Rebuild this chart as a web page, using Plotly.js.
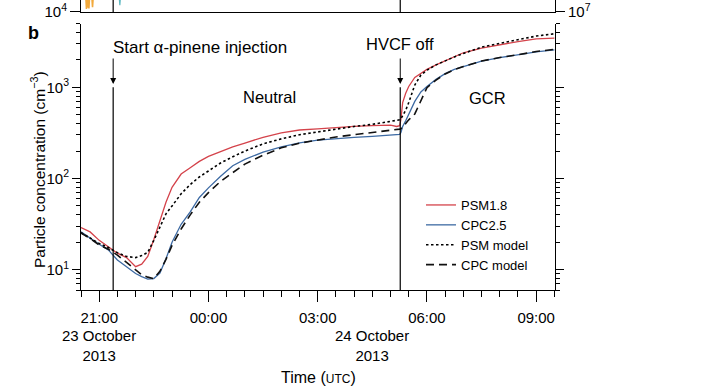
<!DOCTYPE html>
<html>
<head>
<meta charset="utf-8">
<script src="https://cdn.plot.ly/plotly-3.0.1.min.js"></script>
<style>
  html, body { margin: 0; padding: 0; background: #fff; }
  #chart { width: 706px; height: 392px; }
</style>
</head>
<body>
<div id="chart"></div>
<script>
// ---- Data ----
const times = [
  '2013-10-23 20:30','2013-10-23 20:45','2013-10-23 21:00','2013-10-23 21:15','2013-10-23 21:30',
  '2013-10-23 21:45','2013-10-23 22:00','2013-10-23 22:10','2013-10-23 22:20','2013-10-23 22:30',
  '2013-10-23 22:40','2013-10-23 22:50','2013-10-23 23:00','2013-10-23 23:15','2013-10-23 23:30',
  '2013-10-23 23:45','2013-10-24 00:00','2013-10-24 00:20','2013-10-24 00:40','2013-10-24 01:00',
  '2013-10-24 01:30','2013-10-24 02:00','2013-10-24 02:30','2013-10-24 03:00','2013-10-24 03:30',
  '2013-10-24 04:00','2013-10-24 04:30','2013-10-24 05:00','2013-10-24 05:10','2013-10-24 05:15',
  '2013-10-24 05:17','2013-10-24 05:20','2013-10-24 05:25','2013-10-24 05:30','2013-10-24 05:40',
  '2013-10-24 05:50','2013-10-24 06:00','2013-10-24 06:15','2013-10-24 06:30','2013-10-24 06:45',
  '2013-10-24 07:00','2013-10-24 07:30','2013-10-24 08:00','2013-10-24 08:30','2013-10-24 09:00',
  '2013-10-24 09:30'
];
const psm18 = [29, 26, 21, 18, 15.2, 13.6, 10.8, 11.5, 14, 21.5, 35.5, 55, 80, 112, 131,
  154, 175, 199, 222, 245, 283, 317, 340, 350, 363, 372, 380, 385, 372, 380,
  440, 680, 860, 1020, 1280, 1430, 1570, 1760, 1960, 2190, 2390, 2680, 2930, 3170, 3400, 3460];
const cpc25 = [26, 22, 19, 16.5, 12.8, 10.8, 9.1, 8.4, 7.9, 8.0, 9.2, 13.2, 20, 31.5, 43,
  62, 79, 106, 138, 162, 195, 222, 246, 264, 275, 283, 290, 298, 302, 305,
  318, 372, 430, 510, 700, 890, 1020, 1220, 1410, 1570, 1680, 1930, 2110, 2260, 2450, 2570];
const psmModel = [25.5, 22, 19.4, 17.5, 15.4, 14, 13.6, 14.3, 15.5, 21, 30, 41, 50, 68, 86,
  104, 121, 148, 173, 200, 240, 272, 302, 325, 350, 372, 392, 420, 432, 440,
  450, 490, 560, 680, 1060, 1360, 1540, 1760, 1960, 2150, 2350, 2750, 3030, 3300, 3640, 3860];
const cpcModel = [25.3, 22, 18.7, 16.8, 14.5, 12, 9.8, 8.8, 8.3, 8.0, 9.6, 13, 18.5, 28, 40,
  55, 70, 93, 116, 144, 180, 217, 244, 264, 285, 302, 318, 338, 344, 348,
  352, 360, 400, 440, 510, 700, 990, 1200, 1400, 1560, 1690, 1940, 2120, 2270, 2470, 2600];

// fragments of the panel above (cut off at the top of the picture)
const topOrangeTimes = ['2013-10-23 20:38','2013-10-23 20:39','2013-10-23 20:40','2013-10-23 20:41',
  '2013-10-23 20:42','2013-10-23 20:43','2013-10-23 20:44','2013-10-23 20:48','2013-10-23 20:49','2013-10-23 20:50'];
const topOrangeVals = [40000, 13500, 40000, 15000, 40000, 14000, 40000, 40000, 16000, 40000];
const topTealTimes = ['2013-10-23 21:33','2013-10-23 21:34','2013-10-23 21:35'];
const topTealVals = [40000, 19000, 40000];

const seriesNames = ['PSM1.8', 'CPC2.5', 'PSM model', 'CPC model'];
const xTickVals = ['2013-10-23 21:00','2013-10-24 00:00','2013-10-24 03:00','2013-10-24 06:00','2013-10-24 09:00'];
const xTickText = ['21:00','00:00','03:00','06:00','09:00'];
const yTickVals = [10, 100, 1000];
const yTickText = ['10<sup>1</sup>','10<sup>2</sup>','10<sup>3</sup>'];
const yMinorVals = [6,7,8,9,20,30,40,50,60,70,80,90,200,300,400,500,600,700,800,900,2000,3000,4000,5000];
const tPinene = '2013-10-23 21:23';
const tHVCF = '2013-10-24 05:16';
const xRange = ['2013-10-23 20:30','2013-10-24 09:31'];

// ---- Plot ----
const FONT = 'Liberation Sans, Arial, Helvetica, sans-serif';
const traces = [
  {x: times, y: psm18, name: seriesNames[0], type: 'scatter', mode: 'lines',
   line: {color: '#d4434b', width: 1.3}, xaxis: 'x', yaxis: 'y'},
  {x: times, y: cpc25, name: seriesNames[1], type: 'scatter', mode: 'lines',
   line: {color: '#3d6aa3', width: 1.3}, xaxis: 'x', yaxis: 'y'},
  {x: times, y: psmModel, name: seriesNames[2], type: 'scatter', mode: 'lines',
   line: {color: '#000', width: 1.6, dash: '2.5px,2.5px'}, xaxis: 'x', yaxis: 'y'},
  {x: times, y: cpcModel, name: seriesNames[3], type: 'scatter', mode: 'lines',
   line: {color: '#111', width: 1.6, dash: '8px,5px'}, xaxis: 'x', yaxis: 'y'},
  {x: topOrangeTimes, y: topOrangeVals, type: 'scatter', mode: 'lines', showlegend: false,
   line: {color: '#f2a93b', width: 1.6}, xaxis: 'x2', yaxis: 'y2'},
  {x: topTealTimes, y: topTealVals, type: 'scatter', mode: 'lines', showlegend: false,
   line: {color: '#5fb9c2', width: 1.2}, xaxis: 'x2', yaxis: 'y2'},
  {x: [xRange[1]], y: [1e8], type: 'scatter', mode: 'markers', showlegend: false,
   marker: {size: 1, opacity: 0}, xaxis: 'x2', yaxis: 'y3', hoverinfo: 'skip'}
];

const mainTop = (290 - 23.5) / 290;
const topBottom = (290 - 12) / 290;
const yLine = (290 - 87.3) / 290;

const layout = {
  width: 706, height: 392,
  margin: {l: 81, r: 151, t: 0, b: 102, pad: 0},
  paper_bgcolor: '#fff', plot_bgcolor: 'rgba(0,0,0,0)',
  font: {family: FONT, size: 15, color: '#000'},
  showlegend: true,
  legend: {x: (421 - 81) / 474, y: (290 - 190) / 290, xanchor: 'left', yanchor: 'top',
           font: {family: FONT, size: 13, color: '#000'}, bgcolor: 'rgba(0,0,0,0)',
           tracegroupgap: 0, itemwidth: 30},
  xaxis: {type: 'date', range: xRange, domain: [0, 1], anchor: 'y',
          showgrid: false, zeroline: false, showline: true, linecolor: '#000', linewidth: 1,
          tickmode: 'array', tickvals: xTickVals, ticktext: xTickText,
          ticks: 'outside', ticklen: 11, tickwidth: 1, tickcolor: '#000',
          ticklabelstandoff: 3,
          tickfont: {family: FONT, size: 15, color: '#000'},
          minor: {dtick: 1800000, tick0: '2013-10-23 20:30', ticks: 'outside', ticklen: 6,
                  tickwidth: 1, tickcolor: '#000', showgrid: false}},
  yaxis: {type: 'log', range: [Math.log10(6), Math.log10(5000)], domain: [0, mainTop], anchor: 'x',
          showgrid: false, zeroline: false, showline: true, linecolor: '#000', linewidth: 1,
          mirror: 'ticks',
          tickmode: 'array', tickvals: yTickVals, ticktext: yTickText,
          ticks: 'outside', ticklen: 8, tickwidth: 1, tickcolor: '#000',
          tickfont: {family: FONT, size: 15, color: '#000'},
          minor: {tickmode: 'array', tickvals: yMinorVals, ticks: 'outside', ticklen: 4,
                  tickwidth: 1, tickcolor: '#000', showgrid: false}},
  xaxis2: {type: 'date', range: xRange, domain: [0, 1], anchor: 'y2', matches: 'x',
           showgrid: false, zeroline: false, showline: true, linecolor: '#000', linewidth: 1,
           ticks: '', showticklabels: false},
  yaxis2: {type: 'log', range: [3.999, 4.5], domain: [topBottom, 1], anchor: 'x2',
           showgrid: false, zeroline: false, showline: true, linecolor: '#000', linewidth: 1,
           tickmode: 'array', tickvals: [10000], ticktext: ['10<sup>4</sup>'],
           ticks: 'outside', ticklen: 10, tickcolor: '#000',
           tickfont: {family: FONT, size: 15, color: '#000'}},
  yaxis3: {type: 'log', range: [6.999, 7.5], overlaying: 'y2', side: 'right', anchor: 'x2',
           showgrid: false, zeroline: false, showline: true, linecolor: '#000', linewidth: 1,
           tickmode: 'array', tickvals: [1e7], ticktext: ['10<sup>7</sup>'],
           ticks: 'outside', ticklen: 9, tickcolor: '#000',
           tickfont: {family: FONT, size: 15, color: '#000'}},
  shapes: [
    {type: 'line', xref: 'x', yref: 'paper', x0: tPinene, x1: tPinene, y0: 0, y1: yLine,
     line: {color: '#000', width: 1.2}},
    {type: 'line', xref: 'x', yref: 'paper', x0: tHVCF, x1: tHVCF, y0: 0, y1: yLine,
     line: {color: '#000', width: 1.2}},
    {type: 'line', xref: 'x', yref: 'paper', x0: tPinene, x1: tPinene, y0: topBottom, y1: 1,
     line: {color: '#000', width: 1.2}},
    {type: 'line', xref: 'x', yref: 'paper', x0: tHVCF, x1: tHVCF, y0: topBottom, y1: 1,
     line: {color: '#000', width: 1.2}}
  ],
  annotations: [
    {text: '<b>b</b>', xref: 'paper', yref: 'paper', x: (26 - 81) / 474, y: (290 - 33) / 290,
     xanchor: 'left', yanchor: 'middle', showarrow: false, font: {family: FONT, size: 18}},
    {text: 'Particle concentration (cm<sup>\u22123</sup>)', xref: 'paper', yref: 'paper',
     x: (38 - 81) / 474, y: (290 - 170) / 290, textangle: -90, xanchor: 'center', yanchor: 'middle',
     showarrow: false, font: {family: FONT, size: 15.5}},
    {text: 'Start \u03b1-pinene injection', xref: 'x', yref: 'paper', x: tPinene, y: (290 - 47) / 290,
     xanchor: 'left', yanchor: 'middle', xshift: -2, showarrow: false, font: {family: FONT, size: 17}},
    {text: 'HVCF off', xref: 'x', yref: 'paper', x: tHVCF, y: (290 - 44) / 290,
     xanchor: 'center', yanchor: 'middle', showarrow: false, font: {family: FONT, size: 16.5}},
    {text: 'Neutral', xref: 'x', yref: 'paper', x: '2013-10-24 01:41', y: (290 - 97) / 290,
     xanchor: 'center', yanchor: 'middle', showarrow: false, font: {family: FONT, size: 16.5}},
    {text: 'GCR', xref: 'x', yref: 'paper', x: '2013-10-24 07:39', y: (290 - 98) / 290,
     xanchor: 'center', yanchor: 'middle', showarrow: false, font: {family: FONT, size: 16.5}},
    {text: '', xref: 'x', yref: 'paper', x: tPinene, y: (290 - 84) / 290, ax: 0, ay: -27,
     showarrow: true, arrowhead: 2, arrowsize: 1.2, arrowwidth: 1, arrowcolor: '#000'},
    {text: '', xref: 'x', yref: 'paper', x: tHVCF, y: (290 - 84) / 290, ax: 0, ay: -27,
     showarrow: true, arrowhead: 2, arrowsize: 1.2, arrowwidth: 1, arrowcolor: '#000'},
    {text: '23 October<br>2013', xref: 'x', yref: 'paper', x: '2013-10-23 21:00', y: (290 - 345) / 290,
     xanchor: 'center', yanchor: 'middle', showarrow: false, font: {family: FONT, size: 15}},
    {text: '24 October<br>2013', xref: 'x', yref: 'paper', x: '2013-10-24 04:29', y: (290 - 345) / 290,
     xanchor: 'center', yanchor: 'middle', showarrow: false, font: {family: FONT, size: 15}},
    {text: 'Time (<span style="font-size:12px">UTC</span>)', xref: 'paper', yref: 'paper',
     x: 0.5, y: (290 - 377) / 290, xanchor: 'center', yanchor: 'middle', showarrow: false,
     font: {family: FONT, size: 16}}
  ]
};

Plotly.newPlot('chart', traces, layout, {displayModeBar: false, staticPlot: true});
</script>
</body>
</html>
